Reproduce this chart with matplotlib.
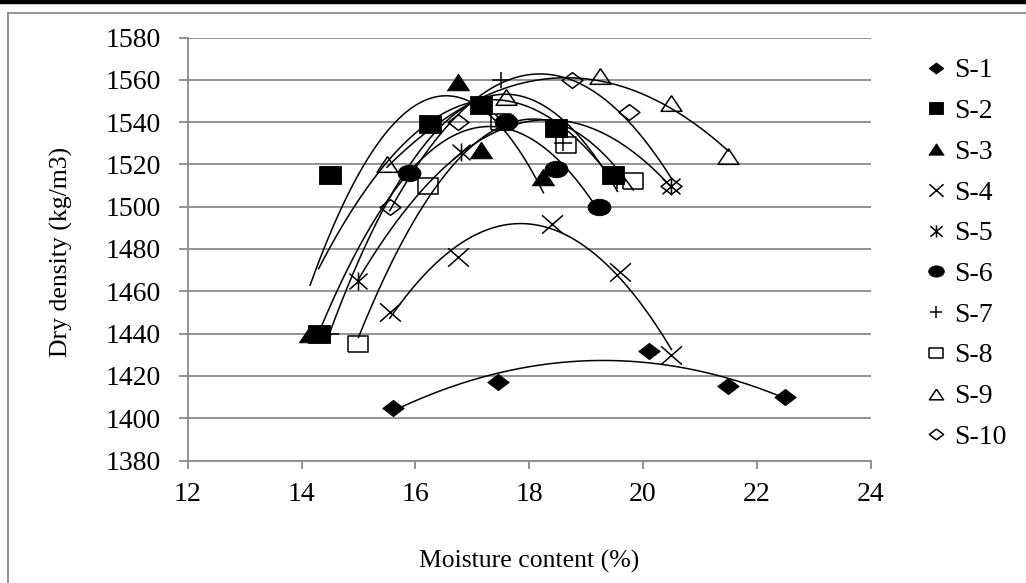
import numpy as np
import matplotlib

matplotlib.use("Agg")
import matplotlib.pyplot as plt
from matplotlib.path import Path
from matplotlib.lines import Line2D

W, H = 1026, 583
INK = "black"
GRID = "#8a8a8a"
SERIF = ["Liberation Serif", "DejaVu Serif"]

# moisture content (%) / dry density (kg/m3)
# (a few points sit hidden under other markers)
s1_x = [15.6, 17.45, 20.1, 21.5, 22.5]
s1_y = [1405, 1417, 1432, 1415, 1410]
s2_x = [14.3, 14.5, 16.25, 17.15, 18.47, 19.48]
s2_y = [1440, 1515, 1539, 1548, 1537, 1515]
s3_x = [14.15, 14.5, 16.75, 17.15, 18.25]
s3_y = [1440, 1515, 1559, 1527, 1514]
s4_x = [15.55, 16.75, 18.4, 19.6, 20.5]
s4_y = [1450, 1476, 1492, 1469, 1430]
s5_x = [15.0, 16.8, 17.55, 18.47, 20.5]
s5_y = [1465, 1526, 1540, 1537, 1510]
s6_x = [14.3, 15.88, 17.6, 18.47, 19.23]
s6_y = [1440, 1516, 1540, 1518, 1500]
s7_x = [14.5, 17.5, 18.6, 19.55]
s7_y = [1440, 1560, 1530, 1512]
s8_x = [15.0, 16.23, 17.5, 18.65, 19.83]
s8_y = [1435, 1510, 1540, 1529, 1512]
s9_x = [15.5, 17.6, 19.25, 20.5, 21.5]
s9_y = [1520, 1552, 1562, 1549, 1524]
s10_x = [15.55, 16.75, 18.75, 19.75, 20.5]
s10_y = [1500, 1540, 1560, 1545, 1510]

labels = ["S-1", "S-2", "S-3", "S-4", "S-5", "S-6", "S-7", "S-8", "S-9", "S-10"]
xs = [s1_x, s2_x, s3_x, s4_x, s5_x, s6_x, s7_x, s8_x, s9_x, s10_x]
ys = [s1_y, s2_y, s3_y, s4_y, s5_y, s6_y, s7_y, s8_y, s9_y, s10_y]

x_ticks = [12, 14, 16, 18, 20, 22, 24]
y_ticks = list(range(1380, 1581, 20))


def squash(verts, codes=None, ky=0.76):
    # markers in the source are a little wider than tall
    return Path(np.asarray(verts, float) * [1.0, ky], codes)


M, L = Path.MOVETO, Path.LINETO
circ = Path.unit_circle()
DIAMOND = squash([(0, 1), (1, 0), (0, -1), (-1, 0), (0, 1)])
SQUARE = squash([(-1, -1), (1, -1), (1, 1), (-1, 1), (-1, -1)], ky=0.8)
TRI = squash([(0, 1), (1, -1), (-1, -1), (0, 1)], ky=0.75)
CIRCLE = squash(circ.vertices, circ.codes, ky=0.72)
CROSS = squash([(-1, -1), (1, 1), (-1, 1), (1, -1)], [M, L, M, L], ky=0.88)
STAR = squash([(-1, -1), (1, 1), (-1, 1), (1, -1), (0, -1.15), (0, 1.15)],
              [M, L, M, L, M, L], ky=0.87)
PLUS = squash([(-1, 0), (1, 0), (0, -1), (0, 1)], [M, L, M, L], ky=0.9)

# marker, filled?, size (pt)
styles = [
    (DIAMOND, True, 15.5),
    (SQUARE, True, 15.5),
    (TRI, True, 16),
    (CROSS, False, 15),
    (STAR, False, 13),
    (CIRCLE, True, 16.5),
    (PLUS, False, 13),
    (SQUARE, False, 14.5),
    (TRI, False, 15),
    (DIAMOND, False, 15),
]

fig = plt.figure(figsize=(W / 100, H / 100), dpi=100)
fig.patch.set_facecolor("white")

# outer frame: heavy rule on top, grey chart-area border
fig.add_artist(Line2D([0, 1], [1 - 2 / H, 1 - 2 / H], transform=fig.transFigure, color=INK, lw=3.2))
fig.add_artist(Line2D([8 / W, 1], [1 - 12.5 / H, 1 - 12.5 / H], transform=fig.transFigure, color=GRID, lw=1.3))
fig.add_artist(Line2D([8 / W, 8 / W], [0, 1 - 12.5 / H], transform=fig.transFigure, color=GRID, lw=1.3))

ax = fig.add_axes([187.7 / W, 1 - 460.5 / H, 683 / W, 423 / H])
ax.set_xlim(12, 24)
ax.set_ylim(1380, 1580)
ax.set_xticks(x_ticks)
ax.set_yticks(y_ticks)
ax.grid(axis="y", color=GRID, lw=1.3)
ax.set_axisbelow(True)
for side in ("top", "right"):
    ax.spines[side].set_visible(False)
for side in ("left", "bottom"):
    ax.spines[side].set_color(GRID)
    ax.spines[side].set_linewidth(1.3)
ax.tick_params(axis="y", direction="out", length=6.8, width=1.3, color=GRID, pad=12.5)
ax.tick_params(axis="x", direction="out", length=5.5, width=1.3, color=GRID, pad=10)
for t in ax.get_xticklabels() + ax.get_yticklabels():
    t.set_fontfamily(SERIF)
    t.set_fontsize(20)

handles = []
for x, y, lab, (mk, filled, ms) in zip(xs, ys, labels, styles):
    face = INK if filled else "none"
    mew = 0.6 if filled else 1.1
    ax.plot(x, y, ls="none", marker=mk, ms=ms, mfc=face, mec=INK, mew=mew, zorder=3)
    # second-order polynomial trendline over the measured range
    coef = np.polyfit(x, y, 2)
    xx = np.linspace(min(x), max(x), 200)
    ax.plot(xx, np.polyval(coef, xx), color=INK, lw=1.1, zorder=4)
    handles.append(Line2D([], [], ls="none", marker=mk, ms=ms * 0.68, mfc=face, mec=INK, mew=mew, label=lab))

fig.text(61.7 / W, 1 - 251.7 / H, "Dry density (kg/m3)", rotation=90, ha="center", va="center",
         family=SERIF, fontsize=18.5)
fig.text(529 / W, 1 - 561 / H, "Moisture content (%)", ha="center", va="center",
         family=SERIF, fontsize=18.5)

ax.legend(handles=handles, loc="upper left", bbox_to_anchor=(926 / W, 1 - 58 / H),
          bbox_transform=fig.transFigure, frameon=False, borderpad=0, borderaxespad=0,
          handlelength=0.7, handletextpad=0.3, labelspacing=0.55,
          prop={"family": SERIF, "size": 20})

fig.savefig("out.png", dpi=100, facecolor="white")
